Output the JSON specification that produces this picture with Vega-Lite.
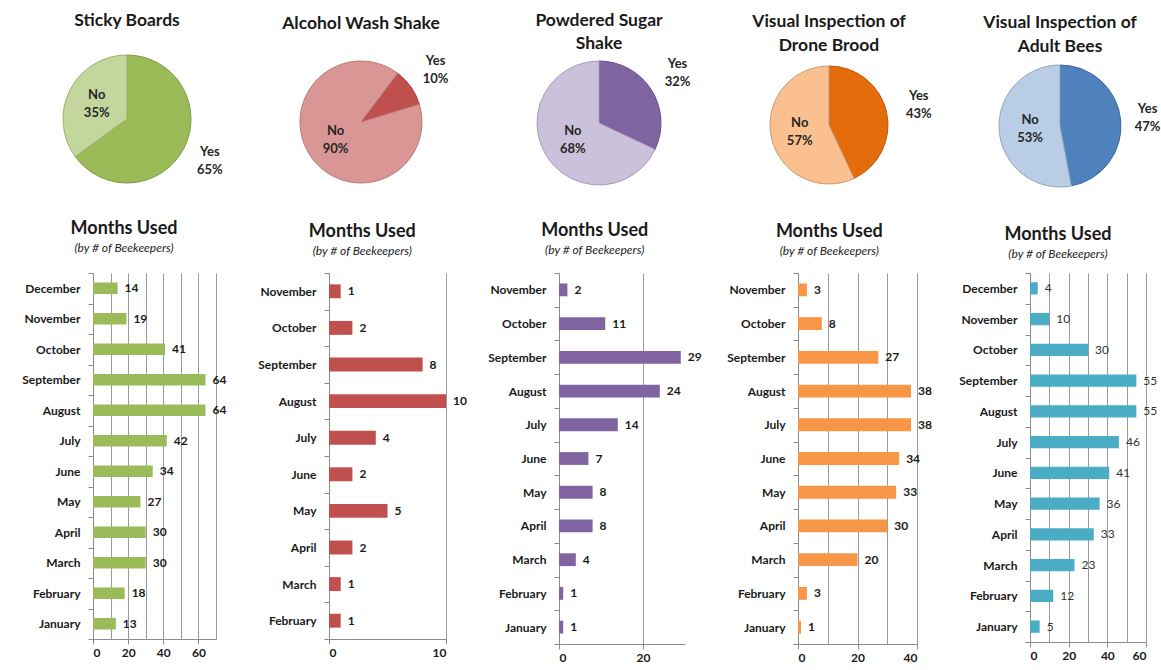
{
  "$schema": "https://vega.github.io/schema/vega-lite/v6.json",
  "background": "white",
  "padding": {"left": 21, "top": 11, "right": 0, "bottom": 0},
  "config": {
    "font": "Lato",
    "view": {"stroke": null},
    "axis": {"domainColor": "#8c8c8c", "tickColor": "#8c8c8c", "gridColor": "#9a9a9a", "labelFont": "Lato", "labelFontWeight": "bold", "labelFontSize": 12, "labelColor": "#1a1a1a"},
    "axisY": {"tickBand": "extent", "tickSize": 5, "labelPadding": 8, "grid": false},
    "axisX": {"tickSize": 5, "labelPadding": 3, "grid": true},
    "title": {"font": "Lato", "fontWeight": "bold", "color": "#1a1a1a", "anchor": "middle"},
    "text": {"font": "Lato"}
  },
  "datasets": {
    "pies": [
      {"method": "Sticky Boards", "answer": "Yes", "share": 0.65},
      {"method": "Sticky Boards", "answer": "No", "share": 0.35},
      {"method": "Alcohol Wash Shake", "answer": "Yes", "share": 0.10},
      {"method": "Alcohol Wash Shake", "answer": "No", "share": 0.90},
      {"method": "Powdered Sugar Shake", "answer": "Yes", "share": 0.32},
      {"method": "Powdered Sugar Shake", "answer": "No", "share": 0.68},
      {"method": "Drone Brood", "answer": "Yes", "share": 0.43},
      {"method": "Drone Brood", "answer": "No", "share": 0.57},
      {"method": "Adult Bees", "answer": "Yes", "share": 0.47},
      {"method": "Adult Bees", "answer": "No", "share": 0.53}
    ],
    "months": [
      {"method": "Sticky Boards", "month": "December", "count": 14},
      {"method": "Sticky Boards", "month": "November", "count": 19},
      {"method": "Sticky Boards", "month": "October", "count": 41},
      {"method": "Sticky Boards", "month": "September", "count": 64},
      {"method": "Sticky Boards", "month": "August", "count": 64},
      {"method": "Sticky Boards", "month": "July", "count": 42},
      {"method": "Sticky Boards", "month": "June", "count": 34},
      {"method": "Sticky Boards", "month": "May", "count": 27},
      {"method": "Sticky Boards", "month": "April", "count": 30},
      {"method": "Sticky Boards", "month": "March", "count": 30},
      {"method": "Sticky Boards", "month": "February", "count": 18},
      {"method": "Sticky Boards", "month": "January", "count": 13},
      {"method": "Alcohol Wash Shake", "month": "November", "count": 1},
      {"method": "Alcohol Wash Shake", "month": "October", "count": 2},
      {"method": "Alcohol Wash Shake", "month": "September", "count": 8},
      {"method": "Alcohol Wash Shake", "month": "August", "count": 10},
      {"method": "Alcohol Wash Shake", "month": "July", "count": 4},
      {"method": "Alcohol Wash Shake", "month": "June", "count": 2},
      {"method": "Alcohol Wash Shake", "month": "May", "count": 5},
      {"method": "Alcohol Wash Shake", "month": "April", "count": 2},
      {"method": "Alcohol Wash Shake", "month": "March", "count": 1},
      {"method": "Alcohol Wash Shake", "month": "February", "count": 1},
      {"method": "Powdered Sugar Shake", "month": "November", "count": 2},
      {"method": "Powdered Sugar Shake", "month": "October", "count": 11},
      {"method": "Powdered Sugar Shake", "month": "September", "count": 29},
      {"method": "Powdered Sugar Shake", "month": "August", "count": 24},
      {"method": "Powdered Sugar Shake", "month": "July", "count": 14},
      {"method": "Powdered Sugar Shake", "month": "June", "count": 7},
      {"method": "Powdered Sugar Shake", "month": "May", "count": 8},
      {"method": "Powdered Sugar Shake", "month": "April", "count": 8},
      {"method": "Powdered Sugar Shake", "month": "March", "count": 4},
      {"method": "Powdered Sugar Shake", "month": "February", "count": 1},
      {"method": "Powdered Sugar Shake", "month": "January", "count": 1},
      {"method": "Drone Brood", "month": "November", "count": 3},
      {"method": "Drone Brood", "month": "October", "count": 8},
      {"method": "Drone Brood", "month": "September", "count": 27},
      {"method": "Drone Brood", "month": "August", "count": 38},
      {"method": "Drone Brood", "month": "July", "count": 38},
      {"method": "Drone Brood", "month": "June", "count": 34},
      {"method": "Drone Brood", "month": "May", "count": 33},
      {"method": "Drone Brood", "month": "April", "count": 30},
      {"method": "Drone Brood", "month": "March", "count": 20},
      {"method": "Drone Brood", "month": "February", "count": 3},
      {"method": "Drone Brood", "month": "January", "count": 1},
      {"method": "Adult Bees", "month": "December", "count": 4},
      {"method": "Adult Bees", "month": "November", "count": 10},
      {"method": "Adult Bees", "month": "October", "count": 30},
      {"method": "Adult Bees", "month": "September", "count": 55},
      {"method": "Adult Bees", "month": "August", "count": 55},
      {"method": "Adult Bees", "month": "July", "count": 46},
      {"method": "Adult Bees", "month": "June", "count": 41},
      {"method": "Adult Bees", "month": "May", "count": 36},
      {"method": "Adult Bees", "month": "April", "count": 33},
      {"method": "Adult Bees", "month": "March", "count": 23},
      {"method": "Adult Bees", "month": "February", "count": 12},
      {"method": "Adult Bees", "month": "January", "count": 5}
    ]
  },
  "columns": 5,
  "bounds": "flush",
  "spacing": {"row": 84, "column": 113},
  "resolve": {"scale": {"color": "independent", "stroke": "independent", "theta": "independent", "x": "independent", "y": "independent"}},
  "concat": [
    {
      "width": 68, "height": 112,
      "title": {"text": "Sticky Boards", "fontSize": 17.5, "offset": 24, "frame": "group"},
      "data": {"name": "pies"},
      "transform": [{"filter": "datum.method === 'Sticky Boards'"}],
      "encoding": {
        "theta": {"field": "share", "type": "quantitative", "stack": true},
        "order": {"field": "answer", "sort": "descending"}
      },
      "layer": [
        {"mark": {"type": "arc", "outerRadius": 64, "strokeWidth": 1},
         "encoding": {
           "color": {"field": "answer", "type": "nominal", "scale": {"domain": ["Yes", "No"], "range": ["#9BBB59", "#C3D69B"]}, "legend": null},
           "stroke": {"field": "answer", "type": "nominal", "scale": {"domain": ["Yes", "No"], "range": ["#7f9a45", "#9fb26f"]}, "legend": null}
         }},
        {"mark": {"type": "text", "radius": 34, "fontSize": 13, "fontWeight": "bold", "lineHeight": 18, "baseline": "line-bottom", "color": "#262626"},
         "encoding": {"text": {"condition": {"test": "datum.answer === 'No'", "field": "answer"}, "value": ""}}},
        {"mark": {"type": "text", "radius": 34, "fontSize": 13, "fontWeight": "bold", "lineHeight": 18, "baseline": "line-top", "color": "#262626"},
         "encoding": {"text": {"condition": {"test": "datum.answer === 'No'", "field": "share", "type": "quantitative", "format": ".0%"}, "value": ""}}},
        {"mark": {"type": "text", "radius": 93, "fontSize": 13, "fontWeight": "bold", "lineHeight": 18, "baseline": "line-bottom", "color": "#262626"},
         "encoding": {"text": {"condition": {"test": "datum.answer === 'Yes'", "field": "answer"}, "value": ""}}},
        {"mark": {"type": "text", "radius": 93, "fontSize": 13, "fontWeight": "bold", "lineHeight": 18, "baseline": "line-top", "color": "#262626"},
         "encoding": {"text": {"condition": {"test": "datum.answer === 'Yes'", "field": "share", "type": "quantitative", "format": ".0%"}, "value": ""}}}
      ]
    },
    {
      "width": 64, "height": 118,
      "title": {"text": "Alcohol Wash Shake", "fontSize": 17.5, "offset": 22, "frame": "group"},
      "data": {"name": "pies"},
      "transform": [{"filter": "datum.method === 'Alcohol Wash Shake'"}],
      "encoding": {
        "theta": {"field": "share", "type": "quantitative", "stack": true, "scale": {"range": [0.646, 6.929]}},
        "order": {"field": "answer", "sort": "descending"}
      },
      "layer": [
        {"mark": {"type": "arc", "outerRadius": 61, "strokeWidth": 1},
         "encoding": {
           "color": {"field": "answer", "type": "nominal", "scale": {"domain": ["Yes", "No"], "range": ["#C0504D", "#D99694"]}, "legend": null},
           "stroke": {"field": "answer", "type": "nominal", "scale": {"domain": ["Yes", "No"], "range": ["#a34340", "#b57b79"]}, "legend": null}
         }},
        {"mark": {"type": "text", "radius": 31, "fontSize": 13, "fontWeight": "bold", "lineHeight": 18, "baseline": "line-bottom", "color": "#262626"},
         "encoding": {"text": {"condition": {"test": "datum.answer === 'No'", "field": "answer"}, "value": ""}}},
        {"mark": {"type": "text", "radius": 31, "fontSize": 13, "fontWeight": "bold", "lineHeight": 18, "baseline": "line-top", "color": "#262626"},
         "encoding": {"text": {"condition": {"test": "datum.answer === 'No'", "field": "share", "type": "quantitative", "format": ".0%"}, "value": ""}}},
        {"mark": {"type": "text", "radius": 91, "fontSize": 13, "fontWeight": "bold", "lineHeight": 18, "baseline": "line-bottom", "color": "#262626"},
         "encoding": {"text": {"condition": {"test": "datum.answer === 'Yes'", "field": "answer"}, "value": ""}}},
        {"mark": {"type": "text", "radius": 91, "fontSize": 13, "fontWeight": "bold", "lineHeight": 18, "baseline": "line-top", "color": "#262626"},
         "encoding": {"text": {"condition": {"test": "datum.answer === 'Yes'", "field": "share", "type": "quantitative", "format": ".0%"}, "value": ""}}}
      ]
    },
    {
      "width": 80, "height": 120,
      "title": {"text": ["Powdered Sugar", "Shake"], "fontSize": 17.5, "lineHeight": 23, "offset": 6, "frame": "group"},
      "data": {"name": "pies"},
      "transform": [{"filter": "datum.method === 'Powdered Sugar Shake'"}],
      "encoding": {
        "theta": {"field": "share", "type": "quantitative", "stack": true},
        "order": {"field": "answer", "sort": "descending"}
      },
      "layer": [
        {"mark": {"type": "arc", "outerRadius": 62, "strokeWidth": 1},
         "encoding": {
           "color": {"field": "answer", "type": "nominal", "scale": {"domain": ["Yes", "No"], "range": ["#8064A2", "#CCC1DA"]}, "legend": null},
           "stroke": {"field": "answer", "type": "nominal", "scale": {"domain": ["Yes", "No"], "range": ["#6a5288", "#a89db8"]}, "legend": null}
         }},
        {"mark": {"type": "text", "radius": 31, "fontSize": 13, "fontWeight": "bold", "lineHeight": 18, "baseline": "line-bottom", "color": "#262626"},
         "encoding": {"text": {"condition": {"test": "datum.answer === 'No'", "field": "answer"}, "value": ""}}},
        {"mark": {"type": "text", "radius": 31, "fontSize": 13, "fontWeight": "bold", "lineHeight": 18, "baseline": "line-top", "color": "#262626"},
         "encoding": {"text": {"condition": {"test": "datum.answer === 'No'", "field": "share", "type": "quantitative", "format": ".0%"}, "value": ""}}},
        {"mark": {"type": "text", "radius": 93, "fontSize": 13, "fontWeight": "bold", "lineHeight": 18, "baseline": "line-bottom", "color": "#262626"},
         "encoding": {"text": {"condition": {"test": "datum.answer === 'Yes'", "field": "answer"}, "value": ""}}},
        {"mark": {"type": "text", "radius": 93, "fontSize": 13, "fontWeight": "bold", "lineHeight": 18, "baseline": "line-top", "color": "#262626"},
         "encoding": {"text": {"condition": {"test": "datum.answer === 'Yes'", "field": "share", "type": "quantitative", "format": ".0%"}, "value": ""}}}
      ]
    },
    {
      "width": 62, "height": 124,
      "title": {"text": ["Visual Inspection of", "Drone Brood"], "fontSize": 17.5, "lineHeight": 24, "offset": 9, "frame": "group"},
      "data": {"name": "pies"},
      "transform": [{"filter": "datum.method === 'Drone Brood'"}],
      "encoding": {
        "theta": {"field": "share", "type": "quantitative", "stack": true},
        "order": {"field": "answer", "sort": "descending"}
      },
      "layer": [
        {"mark": {"type": "arc", "outerRadius": 59, "strokeWidth": 1},
         "encoding": {
           "color": {"field": "answer", "type": "nominal", "scale": {"domain": ["Yes", "No"], "range": ["#E46C0A", "#FAC090"]}, "legend": null},
           "stroke": {"field": "answer", "type": "nominal", "scale": {"domain": ["Yes", "No"], "range": ["#b95a0c", "#c89a74"]}, "legend": null}
         }},
        {"mark": {"type": "text", "radius": 30, "fontSize": 13, "fontWeight": "bold", "lineHeight": 18, "baseline": "line-bottom", "color": "#262626"},
         "encoding": {"text": {"condition": {"test": "datum.answer === 'No'", "field": "answer"}, "value": ""}}},
        {"mark": {"type": "text", "radius": 30, "fontSize": 13, "fontWeight": "bold", "lineHeight": 18, "baseline": "line-top", "color": "#262626"},
         "encoding": {"text": {"condition": {"test": "datum.answer === 'No'", "field": "share", "type": "quantitative", "format": ".0%"}, "value": ""}}},
        {"mark": {"type": "text", "radius": 92, "fontSize": 13, "fontWeight": "bold", "lineHeight": 18, "baseline": "line-bottom", "color": "#262626"},
         "encoding": {"text": {"condition": {"test": "datum.answer === 'Yes'", "field": "answer"}, "value": ""}}},
        {"mark": {"type": "text", "radius": 92, "fontSize": 13, "fontWeight": "bold", "lineHeight": 18, "baseline": "line-top", "color": "#262626"},
         "encoding": {"text": {"condition": {"test": "datum.answer === 'Yes'", "field": "share", "type": "quantitative", "format": ".0%"}, "value": ""}}}
      ]
    },
    {
      "width": 60, "height": 126,
      "title": {"text": ["Visual Inspection of", "Adult Bees"], "fontSize": 17.5, "lineHeight": 24, "offset": 8, "frame": "group"},
      "data": {"name": "pies"},
      "transform": [{"filter": "datum.method === 'Adult Bees'"}],
      "encoding": {
        "theta": {"field": "share", "type": "quantitative", "stack": true},
        "order": {"field": "answer", "sort": "descending"}
      },
      "layer": [
        {"mark": {"type": "arc", "outerRadius": 61, "strokeWidth": 1},
         "encoding": {
           "color": {"field": "answer", "type": "nominal", "scale": {"domain": ["Yes", "No"], "range": ["#4F81BD", "#B9CDE5"]}, "legend": null},
           "stroke": {"field": "answer", "type": "nominal", "scale": {"domain": ["Yes", "No"], "range": ["#3f6a9c", "#8fa6c2"]}, "legend": null}
         }},
        {"mark": {"type": "text", "radius": 30, "fontSize": 13, "fontWeight": "bold", "lineHeight": 18, "baseline": "line-bottom", "color": "#262626"},
         "encoding": {"text": {"condition": {"test": "datum.answer === 'No'", "field": "answer"}, "value": ""}}},
        {"mark": {"type": "text", "radius": 30, "fontSize": 13, "fontWeight": "bold", "lineHeight": 18, "baseline": "line-top", "color": "#262626"},
         "encoding": {"text": {"condition": {"test": "datum.answer === 'No'", "field": "share", "type": "quantitative", "format": ".0%"}, "value": ""}}},
        {"mark": {"type": "text", "radius": 88, "fontSize": 13, "fontWeight": "bold", "lineHeight": 18, "baseline": "line-bottom", "color": "#262626"},
         "encoding": {"text": {"condition": {"test": "datum.answer === 'Yes'", "field": "answer"}, "value": ""}}},
        {"mark": {"type": "text", "radius": 88, "fontSize": 13, "fontWeight": "bold", "lineHeight": 18, "baseline": "line-top", "color": "#262626"},
         "encoding": {"text": {"condition": {"test": "datum.answer === 'Yes'", "field": "share", "type": "quantitative", "format": ".0%"}, "value": ""}}}
      ]
    },
    {
      "width": 123, "height": 366,
      "title": {"text": "Months Used", "subtitle": "(by # of Beekeepers)", "fontSize": 18, "subtitleFontSize": 12, "subtitleFontStyle": "italic", "subtitleColor": "#1a1a1a", "subtitlePadding": 5, "offset": 13, "frame": "bounds"},
      "data": {"name": "months"},
      "transform": [{"filter": "datum.method === 'Sticky Boards'"}],
      "encoding": {
        "y": {"field": "month", "type": "nominal", "title": null, "sort": ["December", "November", "October", "September", "August", "July", "June", "May", "April", "March", "February", "January"], "scale": {"paddingInner": 0, "paddingOuter": 0}},
        "x": {"field": "count", "type": "quantitative", "title": null, "scale": {"domain": [0, 70], "nice": false}, "axis": {"values": [0, 10, 20, 30, 40, 50, 60, 70], "labelExpr": "datum.value % 20 === 0 ? datum.label : ''", "tickOpacity": {"condition": {"test": "datum.value % 20 === 0", "value": 1}, "value": 0}}}
      },
      "layer": [
        {"mark": {"type": "bar", "color": "#9BBB59", "height": {"band": 0.38}}},
        {"mark": {"type": "text", "align": "left", "dx": 7, "fontSize": 12, "fontWeight": "bold", "color": "#1a1a1a"}, "encoding": {"text": {"field": "count", "type": "quantitative"}}}
      ]
    },
    {
      "width": 117, "height": 366,
      "title": {"text": "Months Used", "subtitle": "(by # of Beekeepers)", "fontSize": 18, "subtitleFontSize": 12, "subtitleFontStyle": "italic", "subtitleColor": "#1a1a1a", "subtitlePadding": 5, "offset": 10, "frame": "bounds"},
      "data": {"name": "months"},
      "transform": [{"filter": "datum.method === 'Alcohol Wash Shake'"}],
      "encoding": {
        "y": {"field": "month", "type": "nominal", "title": null, "sort": ["December", "November", "October", "September", "August", "July", "June", "May", "April", "March", "February", "January"], "scale": {"paddingInner": 0, "paddingOuter": 0}},
        "x": {"field": "count", "type": "quantitative", "title": null, "scale": {"domain": [0, 10], "nice": false}, "axis": {"values": [0, 10]}}
      },
      "layer": [
        {"mark": {"type": "bar", "color": "#C0504D", "height": {"band": 0.38}}},
        {"mark": {"type": "text", "align": "left", "dx": 7, "fontSize": 12, "fontWeight": "bold", "color": "#1a1a1a"}, "encoding": {"text": {"field": "count", "type": "quantitative"}}}
      ]
    },
    {
      "width": 126, "height": 371,
      "title": {"text": "Months Used", "subtitle": "(by # of Beekeepers)", "fontSize": 18, "subtitleFontSize": 12, "subtitleFontStyle": "italic", "subtitleColor": "#1a1a1a", "subtitlePadding": 5, "offset": 11, "frame": "bounds"},
      "data": {"name": "months"},
      "transform": [{"filter": "datum.method === 'Powdered Sugar Shake'"}],
      "encoding": {
        "y": {"field": "month", "type": "nominal", "title": null, "sort": ["December", "November", "October", "September", "August", "July", "June", "May", "April", "March", "February", "January"], "scale": {"paddingInner": 0, "paddingOuter": 0}},
        "x": {"field": "count", "type": "quantitative", "title": null, "scale": {"domain": [0, 30], "nice": false}, "axis": {"values": [0, 20]}}
      },
      "layer": [
        {"mark": {"type": "bar", "color": "#8064A2", "height": {"band": 0.38}}},
        {"mark": {"type": "text", "align": "left", "dx": 7, "fontSize": 12, "fontWeight": "bold", "color": "#1a1a1a"}, "encoding": {"text": {"field": "count", "type": "quantitative"}}}
      ]
    },
    {
      "width": 119, "height": 371,
      "title": {"text": "Months Used", "subtitle": "(by # of Beekeepers)", "fontSize": 18, "subtitleFontSize": 12, "subtitleFontStyle": "italic", "subtitleColor": "#1a1a1a", "subtitlePadding": 5, "offset": 10, "frame": "bounds"},
      "data": {"name": "months"},
      "transform": [{"filter": "datum.method === 'Drone Brood'"}],
      "encoding": {
        "y": {"field": "month", "type": "nominal", "title": null, "sort": ["December", "November", "October", "September", "August", "July", "June", "May", "April", "March", "February", "January"], "scale": {"paddingInner": 0, "paddingOuter": 0}},
        "x": {"field": "count", "type": "quantitative", "title": null, "scale": {"domain": [0, 40], "nice": false}, "axis": {"values": [0, 10, 20, 30, 40], "labelExpr": "datum.value % 20 === 0 ? datum.label : ''", "tickOpacity": {"condition": {"test": "datum.value % 20 === 0", "value": 1}, "value": 0}}}
      },
      "layer": [
        {"mark": {"type": "bar", "color": "#F79646", "height": {"band": 0.38}}},
        {"mark": {"type": "text", "align": "left", "dx": 7, "fontSize": 12, "fontWeight": "bold", "color": "#1a1a1a"}, "encoding": {"text": {"field": "count", "type": "quantitative"}}}
      ]
    },
    {
      "width": 116, "height": 369,
      "title": {"text": "Months Used", "subtitle": "(by # of Beekeepers)", "fontSize": 18, "subtitleFontSize": 12, "subtitleFontStyle": "italic", "subtitleColor": "#1a1a1a", "subtitlePadding": 5, "offset": 7, "frame": "bounds"},
      "data": {"name": "months"},
      "transform": [{"filter": "datum.method === 'Adult Bees'"}],
      "encoding": {
        "y": {"field": "month", "type": "nominal", "title": null, "sort": ["December", "November", "October", "September", "August", "July", "June", "May", "April", "March", "February", "January"], "scale": {"paddingInner": 0, "paddingOuter": 0}},
        "x": {"field": "count", "type": "quantitative", "title": null, "scale": {"domain": [0, 60], "nice": false}, "axis": {"values": [0, 10, 20, 30, 40, 50, 60], "labelExpr": "datum.value % 20 === 0 ? datum.label : ''", "tickOpacity": {"condition": {"test": "datum.value % 20 === 0", "value": 1}, "value": 0}}}
      },
      "layer": [
        {"mark": {"type": "bar", "color": "#4BACC6", "height": {"band": 0.4}}},
        {"mark": {"type": "text", "align": "left", "dx": 7, "fontSize": 12, "fontWeight": "normal", "color": "#333333"}, "encoding": {"text": {"field": "count", "type": "quantitative"}}}
      ]
    }
  ]
}
